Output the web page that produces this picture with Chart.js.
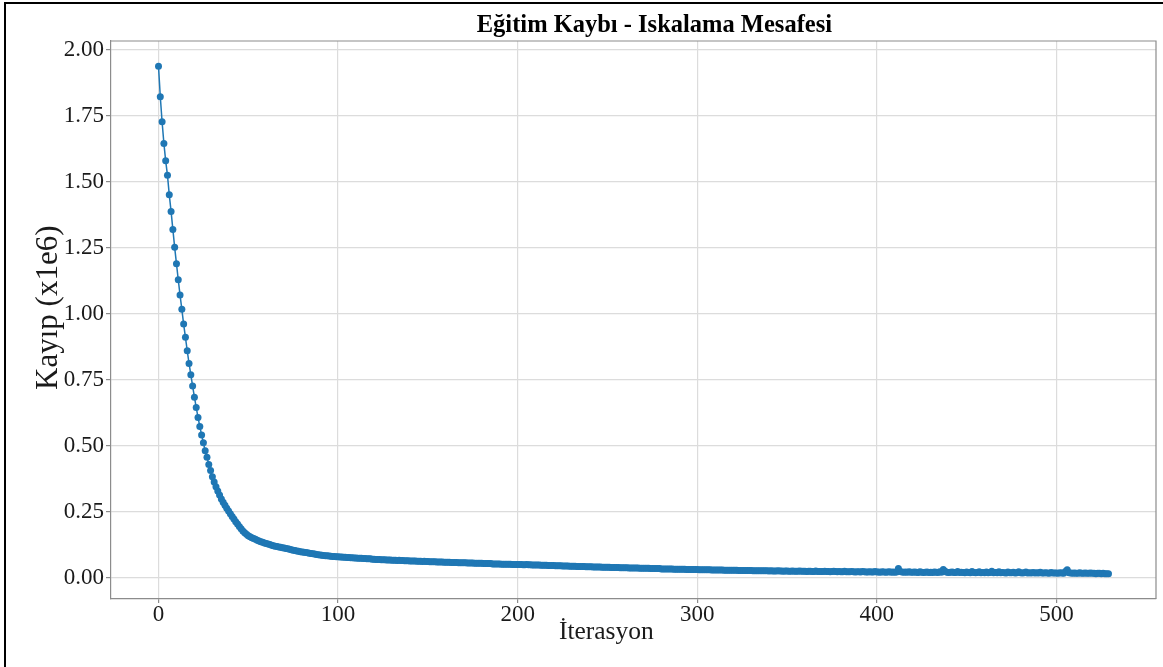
<!DOCTYPE html>
<html>
<head>
<meta charset="utf-8">
<title>Eğitim Kaybı</title>
<script src="https://cdn.jsdelivr.net/npm/chart.js@4.4.0/dist/chart.umd.min.js"></script>
<style>
  html, body { margin: 0; padding: 0; background: #fff; }
  #wrap { width: 1163px; height: 667px; }
</style>
</head>
<body>
<div id="wrap"><canvas id="lossChart" width="1163" height="667"></canvas></div>
<script>
const chartTitle = "Eğitim Kaybı - Iskalama Mesafesi";
const xTitle = "İterasyon";
const yTitle = "Kayıp (x1e6)";
const xTicks = [0, 100, 200, 300, 400, 500];
const yTicks = [0, 0.25, 0.5, 0.75, 1.0, 1.25, 1.5, 1.75, 2.0];

// loss per iteration (x1e6)
const loss = [
  1.938,1.823,1.728,1.646,1.580,1.525,1.451,1.388,1.320,1.252,
  1.190,1.129,1.071,1.017,0.961,0.911,0.860,0.812,0.769,0.726,
  0.684,0.645,0.607,0.573,0.541,0.511,0.481,0.456,0.429,0.406,
  0.382,0.362,0.344,0.328,0.313,0.298,0.286,0.274,0.263,0.252,
  0.242,0.232,0.222,0.212,0.203,0.194,0.185,0.177,0.170,0.164,
  0.159,0.155,0.151,0.148,0.145,0.142,0.139,0.136,0.134,0.131,
  0.129,0.127,0.125,0.123,0.121,0.119,0.118,0.116,0.115,0.113,
  0.112,0.110,0.109,0.107,0.106,0.104,0.103,0.101,0.100,0.098,
  0.097,0.096,0.095,0.094,0.092,0.091,0.090,0.089,0.088,0.087,
  0.086,0.085,0.084,0.083,0.083,0.082,0.081,0.080,0.080,0.079,
  0.079,0.078,0.078,0.077,0.077,0.076,0.076,0.075,0.075,0.074,
  0.074,0.073,0.073,0.073,0.072,0.072,0.071,0.071,0.071,0.070,
  0.070,0.069,0.069,0.069,0.068,0.068,0.068,0.067,0.067,0.067,
  0.066,0.066,0.066,0.065,0.066,0.065,0.065,0.064,0.064,0.064,
  0.063,0.063,0.063,0.063,0.062,0.062,0.062,0.061,0.062,0.061,
  0.061,0.060,0.060,0.060,0.060,0.059,0.059,0.059,0.059,0.058,
  0.058,0.058,0.058,0.057,0.057,0.057,0.057,0.056,0.056,0.056,
  0.056,0.056,0.055,0.055,0.055,0.055,0.054,0.054,0.054,0.054,
  0.054,0.053,0.053,0.053,0.053,0.053,0.052,0.052,0.052,0.052,
  0.052,0.051,0.051,0.051,0.051,0.051,0.051,0.050,0.050,0.050,
  0.050,0.050,0.050,0.049,0.049,0.050,0.049,0.049,0.048,0.048,
  0.048,0.048,0.048,0.047,0.047,0.047,0.047,0.046,0.046,0.046,
  0.046,0.045,0.045,0.045,0.045,0.044,0.044,0.044,0.044,0.043,
  0.043,0.043,0.043,0.042,0.042,0.042,0.042,0.042,0.041,0.041,
  0.041,0.041,0.040,0.040,0.040,0.040,0.040,0.039,0.039,0.039,
  0.039,0.039,0.038,0.038,0.038,0.038,0.038,0.037,0.037,0.037,
  0.037,0.037,0.036,0.036,0.036,0.036,0.036,0.036,0.035,0.035,
  0.035,0.035,0.035,0.035,0.034,0.034,0.034,0.034,0.034,0.034,
  0.033,0.033,0.033,0.033,0.033,0.033,0.033,0.032,0.032,0.032,
  0.032,0.032,0.032,0.032,0.031,0.031,0.031,0.031,0.031,0.031,
  0.031,0.030,0.030,0.030,0.030,0.030,0.030,0.030,0.029,0.029,
  0.029,0.029,0.029,0.029,0.029,0.028,0.028,0.028,0.028,0.028,
  0.028,0.028,0.028,0.027,0.027,0.027,0.027,0.027,0.027,0.027,
  0.027,0.026,0.026,0.026,0.026,0.026,0.026,0.026,0.026,0.026,
  0.025,0.026,0.025,0.025,0.025,0.026,0.025,0.025,0.024,0.025,
  0.025,0.024,0.024,0.025,0.024,0.024,0.024,0.025,0.024,0.024,
  0.024,0.023,0.024,0.024,0.023,0.023,0.025,0.023,0.023,0.023,
  0.023,0.024,0.023,0.023,0.022,0.023,0.024,0.023,0.022,0.023,
  0.022,0.022,0.024,0.022,0.022,0.022,0.023,0.022,0.021,0.022,
  0.022,0.021,0.023,0.022,0.021,0.021,0.022,0.021,0.021,0.023,
  0.021,0.021,0.020,0.022,0.021,0.020,0.021,0.022,0.020,0.021,
  0.020,0.021,0.034,0.023,0.021,0.020,0.021,0.020,0.022,0.020,
  0.020,0.021,0.020,0.019,0.022,0.020,0.019,0.020,0.021,0.019,
  0.020,0.019,0.021,0.020,0.019,0.022,0.020,0.031,0.024,0.020,
  0.019,0.020,0.021,0.019,0.019,0.023,0.019,0.020,0.019,0.018,
  0.021,0.019,0.018,0.023,0.019,0.018,0.019,0.022,0.018,0.019,
  0.018,0.021,0.018,0.019,0.024,0.018,0.019,0.018,0.022,0.018,
  0.019,0.018,0.017,0.021,0.018,0.018,0.020,0.017,0.018,0.022,
  0.018,0.017,0.018,0.021,0.017,0.018,0.017,0.019,0.017,0.018,
  0.017,0.020,0.017,0.017,0.018,0.017,0.016,0.019,0.017,0.017,
  0.017,0.016,0.018,0.017,0.016,0.023,0.030,0.018,0.017,0.016,
  0.017,0.016,0.016,0.018,0.016,0.016,0.017,0.016,0.016,0.017,
  0.016,0.016,0.015,0.016,0.016,0.015,0.016,0.015,0.015,0.015
];

const blue = "#1f77b4";
const spineColor = "#8c8c8c";
const gridColor = "#dcdcdc";
const serif = "'Liberation Serif', 'Times New Roman', serif";

// matplotlib-style 5% margins around the data
const n = loss.length;
const lo = Math.min(...loss), hi = Math.max(...loss);
const xPad = (n - 1) * 0.05, yPad = (hi - lo) * 0.05;

const points = loss.map((v, i) => ({ x: i, y: v }));

const decor = {
  id: "decor",
  beforeDraw(chart) {
    const c = chart.ctx;
    c.save();
    c.fillStyle = "#fff";
    c.fillRect(0, 0, chart.width, chart.height);
    c.restore();
  },
  afterDraw(chart) {
    const c = chart.ctx, a = chart.chartArea;
    const w = a.right - a.left, h = a.bottom - a.top;
    c.save();
    // top + right spines
    c.strokeStyle = spineColor;
    c.lineWidth = 1.2;
    c.beginPath();
    c.moveTo(a.left, a.top);
    c.lineTo(a.right, a.top);
    c.lineTo(a.right, a.bottom);
    c.stroke();
    // black frame of the screenshot
    c.strokeStyle = "#000";
    c.lineWidth = 2;
    c.beginPath();
    c.moveTo(5, chart.height);
    c.lineTo(5, 3);
    c.lineTo(chart.width, 3);
    c.stroke();
    // texts
    c.fillStyle = "#000";
    c.textAlign = "center";
    c.textBaseline = "alphabetic";
    c.font = "bold 24.5px " + serif;
    c.fillText(chartTitle, a.left + w * 0.52, 32);
    c.fillStyle = "#1a1a1a";
    c.font = "25.5px " + serif;
    c.fillText(xTitle, a.left + w * 0.474, 639);
    c.translate(57, a.top + h * 0.478);
    c.rotate(-Math.PI / 2);
    c.font = "31px " + serif;
    c.fillText(yTitle, 0, 0);
    c.restore();
  }
};

new Chart(document.getElementById("lossChart"), {
  type: "line",
  data: {
    datasets: [{
      data: points,
      borderColor: blue,
      borderWidth: 1.5,
      backgroundColor: blue,
      pointBackgroundColor: blue,
      pointBorderWidth: 0,
      pointRadius: 3.5,
      pointHoverRadius: 3.5,
      tension: 0
    }]
  },
  options: {
    responsive: false,
    animation: false,
    devicePixelRatio: 1,
    layout: { padding: { top: 41, right: 7, left: 0, bottom: 0 } },
    plugins: { legend: { display: false }, title: { display: false }, tooltip: { enabled: false } },
    scales: {
      x: {
        type: "linear",
        min: -xPad,
        max: n - 1 + xPad,
        afterBuildTicks: s => { s.ticks = xTicks.map(v => ({ value: v })); },
        afterFit: s => { s.height = 68; },
        grid: { color: gridColor, lineWidth: 1.2, tickColor: spineColor, tickLength: 4 },
        border: { color: spineColor, width: 1.2 },
        ticks: { font: { family: serif, size: 23 }, color: "#1a1a1a", padding: -2, maxRotation: 0 }
      },
      y: {
        min: lo - yPad,
        max: hi + yPad,
        afterBuildTicks: s => { s.ticks = yTicks.map(v => ({ value: v })); },
        afterFit: s => { s.width = 111; },
        grid: { color: gridColor, lineWidth: 1.2, tickColor: spineColor, tickLength: 5 },
        border: { color: spineColor, width: 1.2 },
        ticks: {
          font: { family: serif, size: 23 },
          color: "#1a1a1a",
          padding: 2,
          callback: v => v.toFixed(2)
        }
      }
    }
  },
  plugins: [decor]
});
</script>
</body>
</html>
